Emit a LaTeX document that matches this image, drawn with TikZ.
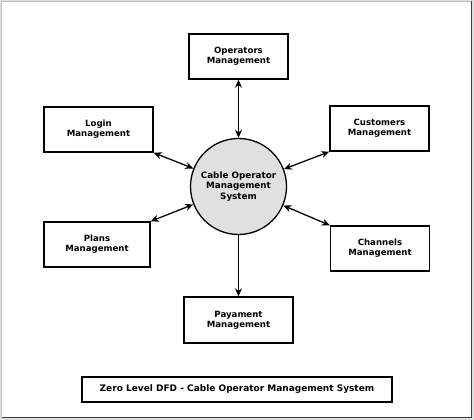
\documentclass[tikz,border=0pt]{standalone}
\usepackage{fontspec}
\setmainfont{DejaVu Sans}
\usepackage{tikz}
\usetikzlibrary{arrows,arrows.meta,shapes,positioning}
\usepackage{xcolor}
\definecolor{dfdgray}{RGB}{224,224,224}
\definecolor{dfdframe}{RGB}{190,190,190}
\definecolor{dfddark}{RGB}{60,60,60}
\tikzstyle{arrow} = [line width=1.3pt,-{Stealth[length=8pt,width=7pt]},color=black]
\tikzstyle{duplex} = [line width=1.3pt,{Stealth[length=8pt,width=7pt]}-{Stealth[length=8pt,width=7pt]},color=black]
\tikzstyle{entity} = [rectangle, minimum width=99pt, minimum height=45pt, text centered, align=center, draw=black, line width=1.4pt, fill=white, font=\fontsize{8.6}{10.2}\selectfont\bfseries]
\tikzstyle{process} = [circle, minimum size=96pt, inner sep=0pt, align=center, draw=black, line width=1.3pt, fill=dfdgray, font=\fontsize{8.8}{10.6}\selectfont\bfseries]

\begin{document}
\begin{tikzpicture}[x=1pt,y=-1pt]
% Frame
\useasboundingbox (0,0) rectangle (474,420);
\fill[dfdframe!50] (0,0) rectangle (474,420);
\fill[white] (2,2) rectangle (471,417);
\draw[dfdframe, line width=1pt] (1.5,417) -- (1.5,1.5) -- (471,1.5);
\draw[dfddark, line width=1.5pt] (1.5,417.5) -- (471.5,417.5) -- (471.5,1.5);

% Central process
\node[process] at (238.5,186.5) (sys) {Cable Operator\\Management\\System};

% External entities
\node[entity] at (238.5,56.5) (operators) {Operators\\Management};
\node[entity, minimum width=109pt] at (98.5,129.5) (login) {Login\\Management};
\node[entity] at (379.5,128.5) (customers) {Customers\\Management};
\node[entity, minimum width=106pt] at (97,244.5) (plans) {Plans\\Management};
\node[entity] at (380,248.5) (channels) {Channels\\Management};
\node[entity, minimum width=109pt, minimum height=46pt] at (238.5,320) (payment) {Payament\\Management};

% Data flows
\draw[duplex] (operators.south) -- (sys.north);
\draw[duplex] (login.south east) -- (sys);
\draw[duplex] (customers.south west) -- (sys);
\draw[duplex] (plans.north east) -- (sys);
\draw[duplex] (channels.north west) -- (sys);
\draw[arrow] (sys.south) -- (payment.north);

% Title
\node[entity, minimum width=310pt, minimum height=25pt, font=\fontsize{9}{11}\selectfont\bfseries] at (237,389.5) (title) {Zero Level DFD - Cable Operator Management System};
\end{tikzpicture}
\end{document}
